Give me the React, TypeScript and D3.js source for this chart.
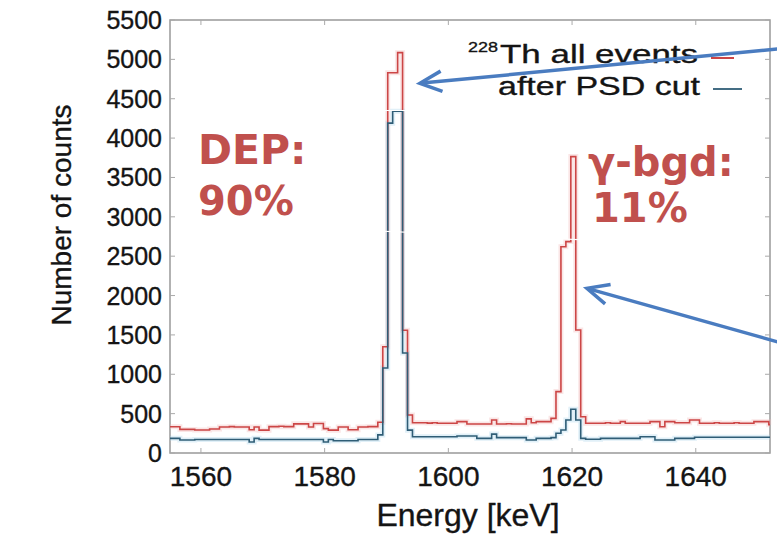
import React from 'react';
import * as d3 from 'd3';

// histogram binning (keV)
const binStart = 1555;
const binWidth = 0.8;

// 228Th all events, counts per bin
const allEvents = [
  334, 334, 300, 300, 300, 292, 292, 292, 305, 305,
  330, 330, 335, 330, 330, 330, 295, 330, 290, 290,
  335, 335, 340, 335, 335, 370, 370, 370, 330, 375,
  375, 310, 290, 290, 330, 330, 295, 295, 330, 330,
  335, 335, 390, 1350, 4830, 4830, 5085, 1560, 483, 385,
  385, 385, 380, 385, 377, 377, 377, 377, 398, 398,
  368, 368, 368, 368, 368, 420, 368, 368, 372, 368,
  368, 368, 434, 385, 398, 398, 398, 440, 780, 2620,
  2685, 3765, 1563, 460, 377, 377, 377, 377, 385, 377,
  377, 398, 377, 377, 377, 377, 377, 398, 398, 334,
  398, 398, 385, 385, 385, 420, 420, 377, 377, 377,
  385, 377, 377, 377, 385, 377, 377, 377, 398, 398,
  398, 360,
];

// after PSD cut, counts per bin
const afterPSD = [
  186, 186, 165, 165, 165, 172, 172, 172, 172, 172,
  172, 172, 172, 172, 172, 172, 140, 186, 172, 172,
  172, 172, 172, 172, 172, 172, 172, 172, 172, 172,
  172, 140, 172, 155, 155, 155, 155, 155, 172, 172,
  172, 172, 230, 1080, 4190, 4340, 4340, 1270, 290, 207,
  207, 207, 207, 207, 207, 207, 207, 207, 215, 215,
  215, 215, 186, 186, 186, 240, 195, 195, 195, 195,
  195, 195, 165, 165, 186, 186, 186, 195, 250, 292,
  420, 555, 420, 186, 174, 174, 174, 186, 186, 186,
  186, 186, 186, 186, 186, 207, 207, 207, 165, 165,
  165, 165, 186, 186, 186, 186, 200, 200, 200, 200,
  200, 200, 200, 200, 200, 200, 200, 200, 200, 200,
  200, 200,
];

const xTicks = [1560, 1580, 1600, 1620, 1640];
const yTicks = [0, 500, 1000, 1500, 2000, 2500, 3000, 3500, 4000, 4500, 5000, 5500];

// annotation arrows in data coordinates: tail -> tip
const arrows = [
  { from: [1661, 5190], to: [1595.4, 4696] },
  { from: [1661, 1240], to: [1622.4, 2092] },
];

const W = 777;
const H = 534;
const left = 170, right = 770, top = 20, bottom = 453;

const red = '#cc4646';
const blue = '#2f5d76';
const arrowBlue = '#4a7cc0';
const noteRed = '#c0504d';
const ink = '#141414';

const x = d3.scaleLinear().domain([1555, 1652]).range([left, right]);
const y = d3.scaleLinear().domain([0, 5500]).range([bottom, top]);

function histPath(counts: number[]) {
  const pts = counts.map((c, i) => [binStart + i * binWidth, c] as [number, number]);
  pts.push([binStart + counts.length * binWidth, counts[counts.length - 1]]);
  const line = d3.line<[number, number]>()
    .x(d => x(Math.min(d[0], 1652)))
    .y(d => y(d[1]))
    .curve(d3.curveStepAfter);
  return line(pts) || '';
}

function Arrow({ from, to }: { from: number[]; to: number[] }) {
  const x1 = x(from[0]), y1 = y(from[1]);
  const x2 = x(to[0]), y2 = y(to[1]);
  const ang = Math.atan2(y1 - y2, x1 - x2);
  const len = 24, half = (25 * Math.PI) / 180;
  const w1 = [x2 + len * Math.cos(ang - half), y2 + len * Math.sin(ang - half)];
  const w2 = [x2 + len * Math.cos(ang + half), y2 + len * Math.sin(ang + half)];
  return (
    <g stroke={arrowBlue} strokeWidth={3.5} fill="none">
      <line x1={x1} y1={y1} x2={x2 + 2 * Math.cos(ang)} y2={y2 + 2 * Math.sin(ang)} />
      <polyline points={`${w1[0]},${w1[1]} ${x2},${y2} ${w2[0]},${w2[1]}`} />
    </g>
  );
}

export default function App() {
  const redPath = histPath(allEvents);
  const bluePath = histPath(afterPSD);
  const axisFont = '"Liberation Sans", Arial, sans-serif';
  const noteFont = '"DejaVu Sans", sans-serif';
  const txt = { fontFamily: axisFont, fill: ink, stroke: ink, strokeWidth: 0.35 };

  return (
    <svg width={W} height={H} style={{ position: 'absolute', left: 0, top: 0, background: '#fff' }}>
      <rect x={0} y={0} width={W} height={H} fill="#fff" />

      {/* frame */}
      <rect x={left} y={top} width={right - left} height={bottom - top} fill="none" stroke="#999" strokeWidth={1.5} />

      {/* ticks */}
      {yTicks.map(t => (
        <g key={'y' + t} stroke="#aaa" strokeWidth={1}>
          <line x1={left} x2={left + 5} y1={y(t)} y2={y(t)} />
          <line x1={right} x2={right - 5} y1={y(t)} y2={y(t)} />
        </g>
      ))}
      {xTicks.map(t => (
        <g key={'x' + t} stroke="#aaa" strokeWidth={1}>
          <line x1={x(t)} x2={x(t)} y1={bottom} y2={bottom - 5} />
          <line x1={x(t)} x2={x(t)} y1={top} y2={top + 5} />
        </g>
      ))}

      {/* histograms with soft halo */}
      <path d={redPath} fill="none" stroke="#f2b8b8" strokeWidth={5} opacity={0.35} />
      <path d={bluePath} fill="none" stroke="#a8d4ea" strokeWidth={5} opacity={0.35} />
      <path d={redPath} fill="none" stroke={red} strokeWidth={1.6} />
      <path d={bluePath} fill="none" stroke={blue} strokeWidth={1.6} />

      {/* thin white breaks crossing the peaks, as in the source image */}
      <line x1={left + 8} x2={right - 8} y1={110.5} y2={110.5} stroke="#fff" strokeWidth={1.2} />
      <line x1={left + 8} x2={right - 8} y1={222.5} y2={247.5} stroke="#fff" strokeWidth={1.2} />

      {/* tick labels */}
      {yTicks.map(t => (
        <text key={'yl' + t} x={162} y={y(t)} dy="0.36em" textAnchor="end" fontSize={25} {...txt}>{t}</text>
      ))}
      {xTicks.map(t => (
        <text key={'xl' + t} x={x(t)} y={486} textAnchor="middle" fontSize={28} {...txt}>{t}</text>
      ))}

      {/* axis titles */}
      <text x={468} y={526} textAnchor="middle" fontSize={32} {...txt}>Energy [keV]</text>
      <text transform="translate(71,215) rotate(-90)" textAnchor="middle" fontSize={28} {...txt}>Number of counts</text>

      {/* legend */}
      <text x={468} y={52} fontSize={15} textLength={30} lengthAdjust="spacingAndGlyphs" {...txt}>228</text>
      <text x={500} y={63} fontSize={26} textLength={198} lengthAdjust="spacingAndGlyphs" {...txt}>Th all events</text>
      <text x={498} y={95} fontSize={26} textLength={202} lengthAdjust="spacingAndGlyphs" {...txt}>after PSD cut</text>
      <line x1={713} x2={742} y1={89} y2={89} stroke={blue} strokeWidth={1.8} />

      {/* annotations */}
      <text x={198} y={164} fontFamily={noteFont} fontWeight="bold" fontSize={41} fill={noteRed}>DEP:</text>
      <text x={198} y={215} fontFamily={noteFont} fontWeight="bold" fontSize={40} fill={noteRed}>90%</text>
      <text x={588} y={176} fontFamily={noteFont} fontWeight="bold" fontSize={40} fill={noteRed}>γ-bgd:</text>
      <text x={592} y={222} fontFamily={noteFont} fontWeight="bold" fontSize={40} fill={noteRed}>11%</text>

      {arrows.map((a, i) => <Arrow key={i} from={a.from} to={a.to} />)}

      {/* red legend sample sits just below the arrow */}
      <line x1={711} x2={734} y1={58} y2={58} stroke={red} strokeWidth={2} />
    </svg>
  );
}
